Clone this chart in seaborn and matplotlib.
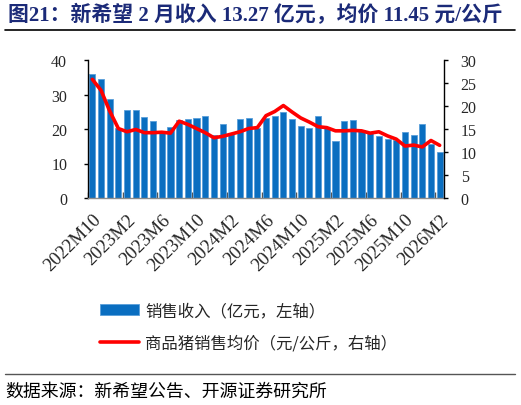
import pandas as pd
import numpy as np
import seaborn as sns
import matplotlib.pyplot as plt
from matplotlib.patches import Patch
from matplotlib.lines import Line2D

# monthly categories 2022M10 .. 2026M2
months = [f"{p.year}M{p.month}" for p in pd.period_range("2022-10", "2026-02", freq="M")]

# 销售收入 (亿元, left axis)
revenue = [36.0, 34.6, 28.7, 20.4, 25.4, 25.6, 23.5, 22.3, 19.4, 20.5,
           22.6, 23.0, 23.3, 23.7, 18.3, 21.5, 18.5, 23.0, 23.3, 20.4,
           23.1, 23.9, 24.8, 22.9, 20.8, 20.4, 23.9, 20.3, 16.4, 22.2,
           22.7, 19.6, 19.0, 18.0, 17.2, 16.8, 19.1, 18.2, 21.4, 15.6,
           13.27]

# 商品猪销售均价 (元/公斤, right axis)
price = [25.8, 23.4, 18.9, 15.1, 14.4, 14.9, 14.2, 14.2, 14.3, 14.1,
         16.7, 16.0, 15.1, 14.2, 13.1, 13.4, 13.9, 14.4, 15.1, 15.3,
         17.9, 18.8, 20.1, 18.7, 17.4, 16.5, 15.5, 15.3, 14.6, 14.6,
         14.7, 14.6, 14.1, 14.4, 13.5, 12.8, 11.3, 11.5, 11.1, 12.5,
         11.45]

df = pd.DataFrame({"month": months, "revenue": revenue, "price": price})
df["pos"] = np.arange(len(df))

sns.set_theme(style="white")
plt.rcParams['font.family'] = ['Liberation Serif', 'Noto Sans CJK SC']

fig = plt.figure(figsize=(5.21, 4.06), dpi=100)
ax = fig.add_axes([88 / 521, 1 - 199 / 406, (444 - 88) / 521, (199 - 61) / 406])

bar_color = '#0A6EC0'
sns.barplot(data=df, x="pos", y="revenue", color=bar_color, width=0.7,
            edgecolor='#5A9FDA', linewidth=0.6, saturation=1, ax=ax)

ax2 = ax.twinx()
sns.lineplot(data=df, x="pos", y="price", color='#FF0000', linewidth=2.6, ax=ax2)

n = len(months)
for a in (ax, ax2):
    a.set_xlim(-0.5, n - 0.5)
    a.set_xlabel('')
    a.set_ylabel('')
    a.spines['top'].set_visible(False)

ax.set_ylim(0, 40)
ax.set_yticks([0, 10, 20, 30, 40])
ax2.set_ylim(0, 30)
ax2.set_yticks([0, 5, 10, 15, 20, 25, 30])

ax.spines['left'].set_color('black')
ax2.spines['right'].set_color('black')
ax2.spines['left'].set_visible(False)
ax.spines['right'].set_visible(False)
ax.spines['bottom'].set_color('#8C8C8C')
ax2.spines['bottom'].set_visible(False)
for s in ('left', 'bottom'):
    ax.spines[s].set_linewidth(1.0)
ax2.spines['right'].set_linewidth(1.0)

ax.tick_params(axis='y', direction='out', length=3, width=1, color='black',
               labelsize=11.5, pad=12)
ax2.tick_params(axis='y', direction='out', length=3, width=1, color='black',
                labelsize=11.5, pad=9)

label_pos = list(range(0, n, 4))
ax.set_xticks(label_pos)
ax.set_xticklabels([months[i] for i in label_pos], rotation=45, ha='right',
                   rotation_mode='anchor', fontsize=13.5)
ax.set_xticks(np.arange(-0.5, n, 4), minor=True)
ax.tick_params(axis='x', which='major', length=0, pad=9)
ax.tick_params(axis='x', which='minor', direction='in', length=4, width=1,
               color='#555555', bottom=True)
ax2.tick_params(axis='x', bottom=False, labelbottom=False)

# title and rules
fig.text(8 / 521, 1 - 16 / 406, "图21：新希望 2 月收入 13.27 亿元，均价 11.45 元/公斤",
         fontsize=15, fontweight='bold', color='#1B2A78', va='center', ha='left')
fig.add_artist(Line2D([5 / 521, 515 / 521], [1 - 31 / 406] * 2, color='black', linewidth=1.2))
fig.add_artist(Line2D([5 / 521, 515 / 521], [1 - 375 / 406] * 2, color='#555555', linewidth=1.0))
fig.text(5 / 521, 1 - 392 / 406, "数据来源：新希望公告、开源证券研究所",
         fontsize=12.9, color='black', va='center', ha='left',
         family=['Noto Sans CJK SC'])

handles = [Patch(facecolor=bar_color, edgecolor='#5A9FDA', linewidth=0.6),
           Line2D([0], [0], color='#FF0000', linewidth=2.6)]
labels = ["销售收入（亿元，左轴）", "商品猪销售均价（元/公斤，右轴）"]
fig.legend(handles, labels, loc='upper left', bbox_to_anchor=(100 / 521, 1 - 303 / 406),
           frameon=False, borderpad=0, borderaxespad=0, handlelength=2.4,
           handleheight=0.7, handletextpad=0.35, labelspacing=0.95,
           prop={'family': ['Noto Sans CJK SC'], 'size': 11.8})

fig.savefig("out.png", dpi=100)
